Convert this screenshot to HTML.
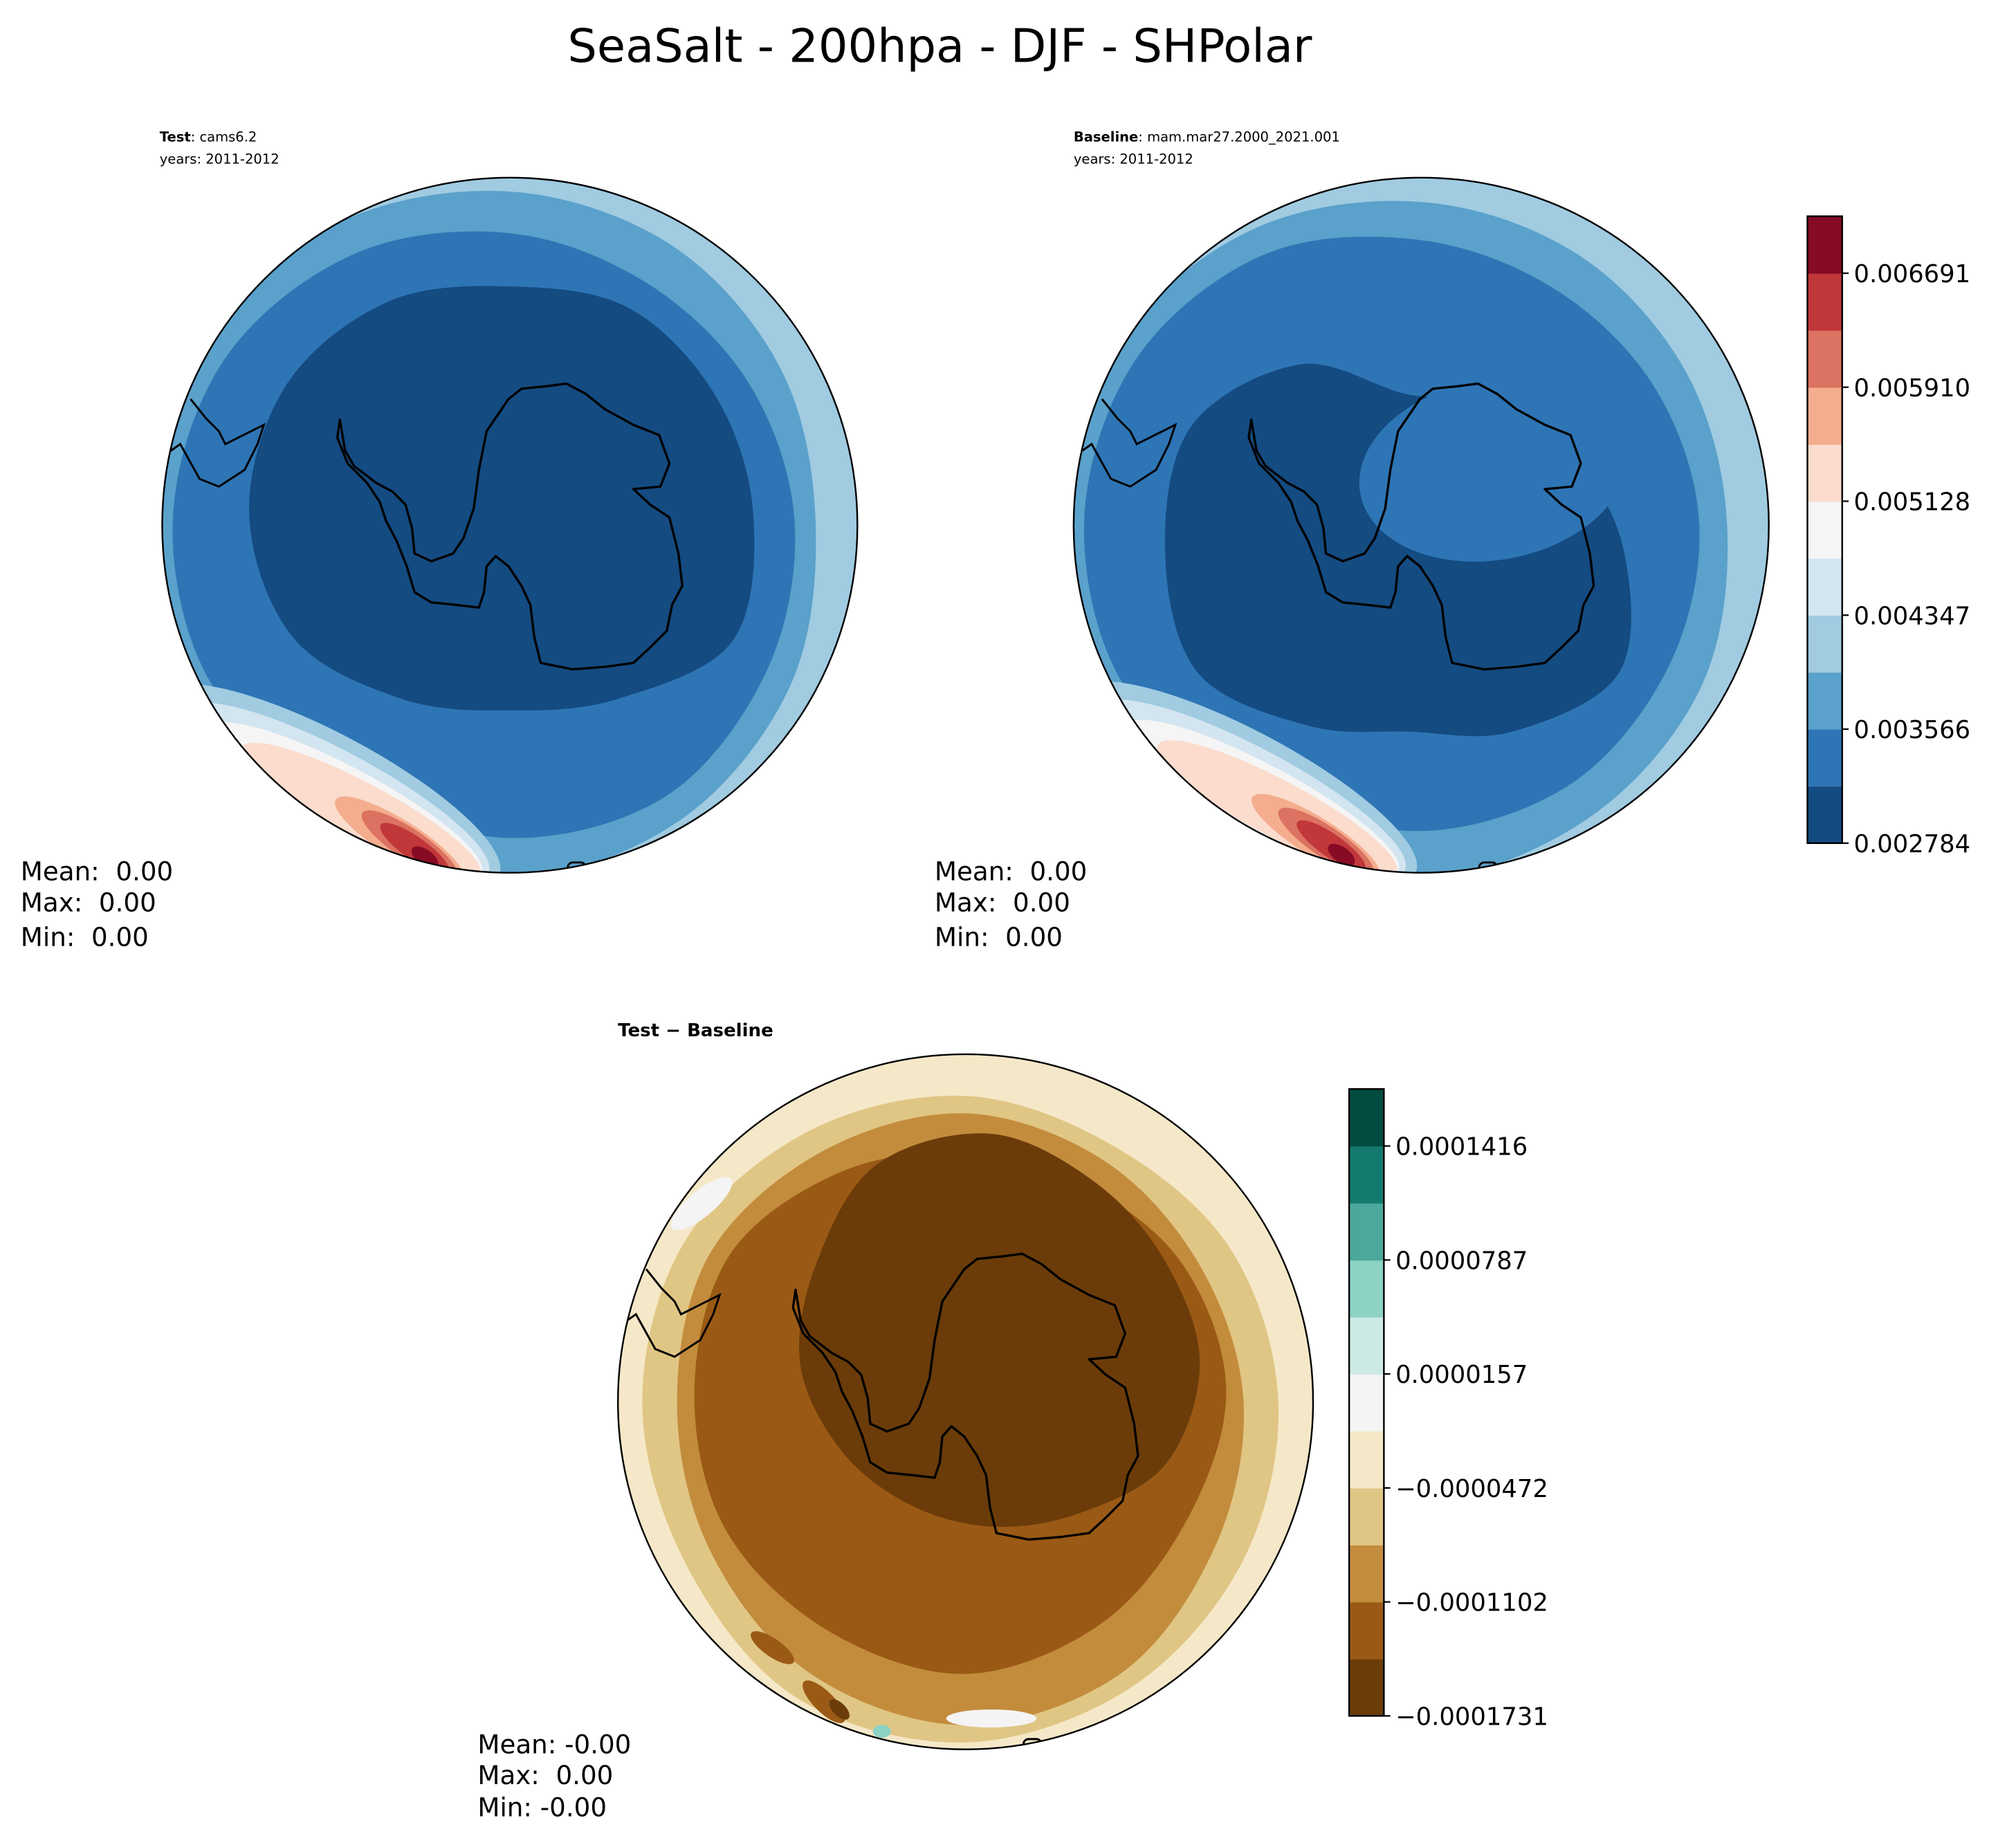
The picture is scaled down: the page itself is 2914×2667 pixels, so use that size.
<!DOCTYPE html>
<html><head><meta charset="utf-8"><style>
html,body{margin:0;padding:0;background:#fff;}
svg{display:block;}
text{font-family:"DejaVu Sans","Liberation Sans",sans-serif;fill:#000;white-space:pre;}
</style></head><body>
<svg id="fig" xmlns="http://www.w3.org/2000/svg" width="2914" height="2667" viewBox="0 0 1566 1433.3" xml:space="preserve">
<rect width="1566" height="1434" fill="#fff"/>
<text x="730" y="48" font-size="36" text-anchor="middle">SeaSalt - 200hpa - DJF - SHPolar</text>

<text x="124" y="110" font-size="10.5"><tspan font-weight="bold">Test</tspan>: cams6.2</text>
<text x="124" y="127" font-size="10.5">years: 2011-2012</text>
<text x="834" y="110" font-size="10.5"><tspan font-weight="bold">Baseline</tspan>: mam.mar27.2000_2021.001</text>
<text x="834" y="127" font-size="10.5">years: 2011-2012</text>
<text x="480" y="805" font-size="14" font-weight="bold">Test − Baseline</text>

<g font-size="20">
<text x="16" y="684">Mean:  0.00</text><text x="16" y="708">Max:  0.00</text><text x="16" y="735">Min:  0.00</text></g>
<g font-size="20">
<text x="726" y="684">Mean:  0.00</text><text x="726" y="708">Max:  0.00</text><text x="726" y="735">Min:  0.00</text></g>
<g font-size="20">
<text x="371" y="1362">Mean: -0.00</text><text x="371" y="1386">Max:  0.00</text><text x="371" y="1411">Min: -0.00</text></g>

<g id="maps"></g>
<g id="cbars"></g>
</svg>
<script>
// ---- colorbar data ----
const seqColors = ["#144b81","#2e75b5","#5aa1cb","#a0cbe1","#d3e5f0","#f5f5f5","#fbdccd","#f4ad8e","#dc7261","#c1373a","#870b24"];
const seqTicks = ["0.002784","0.003566","0.004347","0.005128","0.005910","0.006691"];
const divColors = ["#6b3c09","#9a5a15","#c38c3d","#e0c684","#f5e8c8","#f4f4f4","#cde9e4","#8dd2c4","#4ba89a","#147a6e","#024b40"];
const divTicks = ["\u22120.0001731","\u22120.0001102","\u22120.0000472","0.0000157","0.0000787","0.0001416"];

// ---- contour region radii (fraction of map radius at 0,30,...,330 deg) ----
const p1Mid  = [0.88,0.93,0.98,1.02,1.02,1.02,1.02,1.02,1.0,0.96,0.93,0.9];
const p1Blue = [0.82,0.85,0.9,0.9,0.88,0.97,0.97,0.95,0.9,0.84,0.8,0.8];
const p1Dark = [0.7,0.74,0.62,0.57,0.62,0.72,0.75,0.74,0.7,0.65,0.68,0.68];
const p2Mid  = [0.88,0.93,0.97,1.02,1.02,1.02,1.02,1.02,0.98,0.93,0.9,0.88];
const p2Blue = [0.8,0.82,0.86,0.88,0.88,0.97,0.97,0.95,0.9,0.82,0.78,0.78];
const p2Dark = [0.62,0.7,0.6,0.52,0.58,0.7,0.7,0.72,0.62,0.45,0.5,0.55];
const p3Tan  = [0.9,0.92,0.95,0.98,0.98,0.93,0.93,0.93,0.9,0.88,0.85,0.88];
const p3LBr  = [0.8,0.83,0.9,0.93,0.9,0.85,0.83,0.85,0.83,0.83,0.8,0.78];
const p3Br   = [0.75,0.74,0.78,0.82,0.8,0.8,0.78,0.78,0.72,0.68,0.68,0.72];
const p3Dark = [0.6,0.58,0.5,0.47,0.47,0.5,0.55,0.58,0.66,0.66,0.6,0.58];

const NS="http://www.w3.org/2000/svg";
function mk(tag,attrs,parent){const e=document.createElementNS(NS,tag);for(const k in attrs)e.setAttribute(k,attrs[k]);parent.appendChild(e);return e;}
function blobPath(cx,cy,R,radii){
  const n=radii.length,pts=[];
  for(let i=0;i<n;i++){const a=i*2*Math.PI/n;pts.push([cx+R*radii[i]*Math.cos(a),cy+R*radii[i]*Math.sin(a)]);}
  let d="M"+pts[0][0].toFixed(1)+","+pts[0][1].toFixed(1);
  for(let i=0;i<n;i++){
    const p0=pts[(i-1+n)%n],p1=pts[i],p2=pts[(i+1)%n],p3=pts[(i+2)%n];
    const c1=[p1[0]+(p2[0]-p0[0])/6,p1[1]+(p2[1]-p0[1])/6],c2=[p2[0]-(p3[0]-p1[0])/6,p2[1]-(p3[1]-p1[1])/6];
    d+=" C"+c1.map(v=>v.toFixed(1))+" "+c2.map(v=>v.toFixed(1))+" "+p2.map(v=>v.toFixed(1));
  }
  return d+"Z";
}
// Antarctica coast (reference panel-1 coords)
const coast=[[264,326],[268,350],[275,362],[292,375],[305,382],[315,392],[320,410],[322,430],[335,436],[352,430],[360,418],[368,395],[372,365],[378,335],[395,310],[405,302],[425,300],[440,298],[455,306],[470,318],[492,330],[512,338],[520,360],[513,378],[492,380],[505,392],[520,402],[527,430],[530,455],[522,470],[518,490],[505,503],[492,515],[470,518],[445,520],[420,515],[415,495],[412,470],[405,455],[395,440],[385,432],[378,440],[376,460],[372,472],[355,470],[335,468],[322,460],[316,440],[308,420],[300,405],[295,390],[285,375],[270,360],[262,340]];
const samerica=[[148,310],[160,325],[170,335],[175,345],[205,330],[200,345],[190,365],[170,378],[155,372],[140,345],[130,352]];

function drawPanel(id,cx,cy,R,layers,extras,coastOff){
  const maps=document.getElementById('maps');
  const g=mk('g',{},maps);
  
  
  const defs=mk('defs',{},g);
  const cp=mk('clipPath',{id:id+'-clip'},defs);
  mk('circle',{cx:cx,cy:cy,r:R},cp);
  const inner=mk('g',{'clip-path':'url(#'+id+'-clip)'},g);
  mk('circle',{cx:cx,cy:cy,r:R,fill:layers[0].fill},inner);
  for(let i=1;i<layers.length;i++){
    const L=layers[i];
    const p=mk('path',{d:blobPath(cx+(L.dx||0),cy+(L.dy||0),R,L.r),fill:L.fill},inner);
    
    
  }
  extras.forEach(e=>{mk('ellipse',{cx:e[0],cy:e[1],rx:e[2],ry:e[3],fill:e[5],transform:'rotate('+e[4]+' '+e[0]+' '+e[1]+')'},inner);});
  const pts=coast.map(p=>(p[0]+coastOff[0])+','+(p[1]+coastOff[1])).join(' ');
  const c=mk('polygon',{points:pts,fill:'none',stroke:'#000','stroke-width':1.8,'stroke-linejoin':'round'},inner);
  
  
  const sa=samerica.map(p=>(p[0]+coastOff[0])+','+(p[1]+coastOff[1])).join(' ');
  mk('polyline',{points:sa,fill:'none',stroke:'#000','stroke-width':1.6},inner);
  mk('rect',{x:cx+45,y:cy+262,width:14,height:14,fill:'none',stroke:'#000','stroke-width':1.6,rx:4},inner);
  const b=mk('circle',{cx:cx,cy:cy,r:R,fill:'none',stroke:'#000','stroke-width':1.3},g);
  
  
}

const P1={cx:396,cy:408,R:270},P2={cx:1104,cy:408,R:270},P3={cx:750,cy:1089,R:270};
const redsP1=[[255,610,150,40,28,"#a0cbe1"],[260,615,135,32,28,"#d3e5f0"],[268,622,120,26,28,"#f5f5f5"],[280,630,105,22,28,"#fbdccd"],[310,652,58,15,32,"#f4ad8e"],[318,656,44,12,34,"#dc7261"],[322,659,32,9,35,"#c1373a"],[330,666,12,6,35,"#870b24"]];
const redsP2=redsP1.map(e=>[e[0]+712,e[1]-2,e[2],e[3],e[4],e[5]]);
drawPanel('test',P1.cx,P1.cy,P1.R,[{fill:"#a0cbe1"},{fill:"#5aa1cb",r:p1Mid},{fill:"#2e75b5",r:p1Blue},{fill:"#144b81",r:p1Dark,dy:-10}],redsP1,[0,0]);
drawPanel('baseline',P2.cx,P2.cy,P2.R,[{fill:"#a0cbe1"},{fill:"#5aa1cb",r:p2Mid},{fill:"#2e75b5",r:p2Blue},{fill:"#144b81",r:p2Dark,dy:20,dx:-10}],
 redsP2.concat([[1160,365,105,70,-10,"#2e75b5"]]),[708,0]);
drawPanel('difference',P3.cx,P3.cy,P3.R,[{fill:"#f5e8c8"},{fill:"#e0c684",r:p3Tan},{fill:"#c38c3d",r:p3LBr},{fill:"#9a5a15",r:p3Br,dy:-10},{fill:"#6b3c09",r:p3Dark,dx:20,dy:-30}],
 [[545,935,30,10,-40,"#f4f4f4"],[600,1280,20,7,35,"#9a5a15"],[640,1322,22,8,45,"#9a5a15"],[652,1328,10,5,45,"#6b3c09"],[685,1345,7,5,0,"#8dd2c4"],[770,1335,35,7,0,"#f4f4f4"]],[354,676]);

function drawCbar(id,x,y0,y1,w,colors,ticks){
  const g=mk('g',{},document.getElementById('cbars'));
  
  
  const n=colors.length,h=(y1-y0)/n;
  colors.forEach((c,i)=>{
    const r=mk('rect',{x:x,y:(y1-(i+1)*h).toFixed(2),width:w,height:(h+0.4).toFixed(2),fill:c},g);
    
    
  });
  mk('rect',{x:x,y:y0,width:w,height:y1-y0,fill:'none',stroke:'#000','stroke-width':1.3},g);
  ticks.forEach((t,i)=>{
    const ty=y1-2*i*h;
    mk('line',{x1:x+w,x2:x+w+5,y1:ty,y2:ty,stroke:'#000','stroke-width':1.2},g);
    const tx=mk('text',{x:x+w+9,y:ty+7,'font-size':19},g);
    tx.textContent=t;
    
    
  });
}
drawCbar('main-colorbar',1404,168,655,27,seqColors,seqTicks);
drawCbar('diff-colorbar',1048,846,1333,27,divColors,divTicks);
</script>
</body></html>
